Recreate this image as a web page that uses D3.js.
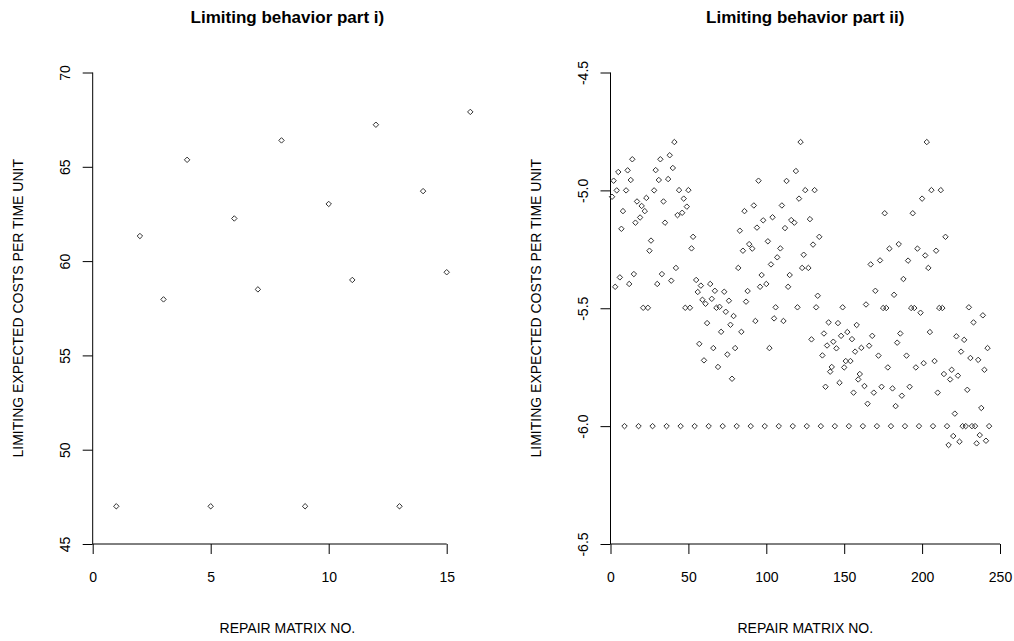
<!DOCTYPE html>
<html>
<head>
<meta charset="utf-8">
<script src="https://cdn.jsdelivr.net/npm/d3@7"></script>
<style>
  body { margin: 0; background: #fff; }
  svg text { font-family: "Liberation Sans", Arial, sans-serif; fill: #000; }
</style>
</head>
<body>
<div id="graph"></div>
<script>

// part i) : 16 repair matrices
var leftNo = [1, 2, 3, 4, 5, 6, 7, 8, 9, 10, 11, 12, 13, 14, 15, 16];
var leftCost = [47.0, 61.33, 57.97, 65.37, 47.0, 62.26, 58.5, 66.4, 47.0, 63.03, 59.0, 67.23, 47.0, 63.71, 59.41, 67.91];
var leftXTicks = [0, 5, 10, 15];
var leftYTicks = [45, 50, 55, 60, 65, 70];

// part ii) : 243 repair matrices, costs in order of matrix no. 1..243
var rightCost = [
  -5.027, -4.959, -5.409, -5.0, -4.922, -5.369, -5.163, -5.088, -6.0,
  -5.0, -4.915, -5.397, -4.956, -4.868, -5.355, -5.137, -5.047, -6.0,
  -5.115, -5.066, -5.498, -5.088, -5.032, -5.498, -5.256, -5.213, -6.0,
  -5.0, -4.914, -5.397, -4.956, -4.868, -5.355, -5.047, -5.137, -6.0,
  -4.952, -4.851, -5.383, -4.905, -4.795, -5.329, -5.105, -4.999, -6.0,
  -5.095, -5.035, -5.498, -5.069, -4.999, -5.498, -5.246, -5.197, -6.0,
  -5.380, -5.431, -5.651, -5.404, -5.464, -5.721, -5.481, -5.563, -6.0,
  -5.397, -5.460, -5.669, -5.426, -5.498, -5.749, -5.494, -5.600, -6.0,
  -5.430, -5.515, -5.696, -5.468, -5.570, -5.799, -5.533, -5.669, -6.0,
  -5.329, -5.171, -5.600, -5.256, -5.088, -5.472, -5.427, -5.228, -6.0,
  -5.247, -5.064, -5.554, -5.158, -4.959, -5.409, -5.359, -5.127, -6.0,
  -5.397, -5.216, -5.669, -5.314, -5.114, -5.543, -5.496, -5.284, -6.0,
  -5.246, -5.064, -5.554, -5.160, -4.960, -5.409, -5.359, -5.126, -6.0,
  -5.137, -4.918, -5.496, -5.035, -4.795, -5.329, -5.273, -4.999, -6.0,
  -5.329, -5.122, -5.632, -5.230, -4.999, -5.496, -5.447, -5.197, -6.0,
  -5.700, -5.607, -5.833, -5.658, -5.560, -5.769, -5.749, -5.642, -6.0,
  -5.670, -5.563, -5.816, -5.617, -5.496, -5.751, -5.724, -5.601, -6.0,
  -5.724, -5.631, -5.858, -5.684, -5.571, -5.802, -5.779, -5.668, -6.0,
  -5.830, -5.484, -5.905, -5.659, -5.314, -5.617, -5.858, -5.426, -6.0,
  -5.701, -5.297, -5.833, -5.499, -5.097, -5.499, -5.751, -5.247, -6.0,
  -5.840, -5.443, -5.915, -5.646, -5.228, -5.607, -5.871, -5.376, -6.0,
  -5.701, -5.298, -5.833, -5.499, -5.097, -5.499, -5.751, -5.247, -6.0,
  -5.519, -5.035, -5.733, -5.276, -4.795, -5.329, -5.601, -4.999, -6.0,
  -5.724, -5.256, -5.858, -5.499, -4.999, -5.499, -5.779, -5.197, -6.0,
  -6.080, -5.802, -5.761, -6.042, -5.947, -5.619, -5.786, -6.066, -5.684,
  -6.0, -5.634, -6.0, -5.846, -5.496, -5.711, -6.0, -5.560, -6.0,
  -6.073, -5.719, -6.038, -5.923, -5.530, -5.761, -6.062, -5.669, -6.0
];
var rightNo = d3.range(1, rightCost.length + 1);
var rightXTicks = [0, 50, 100, 150, 200, 250];
var rightYTicks = [-6.5, -6.0, -5.5, -5.0, -4.5];

var titles = ["Limiting behavior part i)", "Limiting behavior part ii)"];
var xLabel = "REPAIR MATRIX NO.";
var yLabel = "LIMITING EXPECTED COSTS PER TIME UNIT";

var width = 1014, height = 641;
var plotTop = 72.5, plotBottom = 544;
var tick = 10;

var svg = d3.select('#graph').append('svg')
    .attr('width', width)
    .attr('height', height);

function panel(opts) {
  var x = d3.scaleLinear().domain(opts.xDomain).range(opts.xRange);
  var y = d3.scaleLinear().domain(opts.yDomain).range([plotBottom, plotTop]);
  var g = svg.append('g');

  // x axis
  var xa = g.append('g')
      .attr('transform', 'translate(0,' + plotBottom + ')')
      .call(d3.axisBottom(x).tickValues(opts.xTicks).tickSize(tick).tickPadding(18).tickFormat(d3.format('d')));
  xa.select('.domain').remove();
  xa.append('line')
      .attr('x1', x(opts.xTicks[0])).attr('x2', x(opts.xTicks[opts.xTicks.length - 1]))
      .attr('stroke', '#000');
  xa.selectAll('.tick line').attr('stroke', '#000');
  xa.selectAll('.tick text').attr('font-size', 14).attr('fill', '#000');

  // y axis (labels parallel to axis, as in R)
  var ya = g.append('g')
      .attr('transform', 'translate(' + opts.xRange[0] + ',0)')
      .call(d3.axisLeft(y).tickValues(opts.yTicks).tickSize(tick).tickFormat(opts.yFormat));
  ya.select('.domain').remove();
  ya.append('line')
      .attr('y1', y(opts.yTicks[0])).attr('y2', y(opts.yTicks[opts.yTicks.length - 1]))
      .attr('stroke', '#000');
  ya.selectAll('.tick line').attr('stroke', '#000');
  ya.selectAll('.tick text')
      .attr('font-size', 14)
      .attr('fill', '#000')
      .attr('x', null)
      .attr('text-anchor', 'middle')
      .attr('transform', 'translate(' + (-opts.yLabelOff) + ',0) rotate(-90)')
      .attr('dy', '0.35em');

  // points
  g.append('g')
    .selectAll('path')
    .data(opts.xs)
    .enter()
    .append('path')
      .attr('d', d3.symbol().type(d3.symbolDiamond2).size(19))
      .attr('transform', function(d, i) { return 'translate(' + x(d) + ',' + y(opts.ys[i]) + ')'; })
      .attr('fill', 'none')
      .attr('stroke', '#333')
      .attr('stroke-width', 1);

  var cx = (opts.xRange[0] + opts.xRange[1]) / 2;
  g.append('text')
      .attr('x', cx).attr('y', 17).attr('dy', '0.35em')
      .attr('text-anchor', 'middle')
      .attr('font-size', 17).attr('font-weight', 'bold')
      .text(opts.title);
  g.append('text')
      .attr('x', cx).attr('y', 628).attr('dy', '0.35em')
      .attr('text-anchor', 'middle')
      .attr('font-size', 14)
      .text(xLabel);
  g.append('text')
      .attr('transform', 'translate(' + (opts.xRange[0] - opts.yTitleOff) + ',' + ((plotTop + plotBottom) / 2) + ') rotate(-90)')
      .attr('dy', '0.35em')
      .attr('text-anchor', 'middle')
      .attr('font-size', 14)
      .text(yLabel);
}

panel({
  xDomain: [0, 16.5], xRange: [92.7, 482.1],
  yDomain: [45, 70],
  xTicks: leftXTicks, yTicks: leftYTicks,
  yFormat: d3.format('d'),
  yLabelOff: 28, yTitleOff: 75,
  xs: leftNo, ys: leftCost,
  title: titles[0]
});

panel({
  xDomain: [0, 250], xRange: [610.5, 1000],
  yDomain: [-6.5, -4.5],
  xTicks: rightXTicks, yTicks: rightYTicks,
  yFormat: function(d) { return d.toFixed(1); },
  yLabelOff: 27, yTitleOff: 74,
  xs: rightNo, ys: rightCost,
  title: titles[1]
});

</script>
</body>
</html>
